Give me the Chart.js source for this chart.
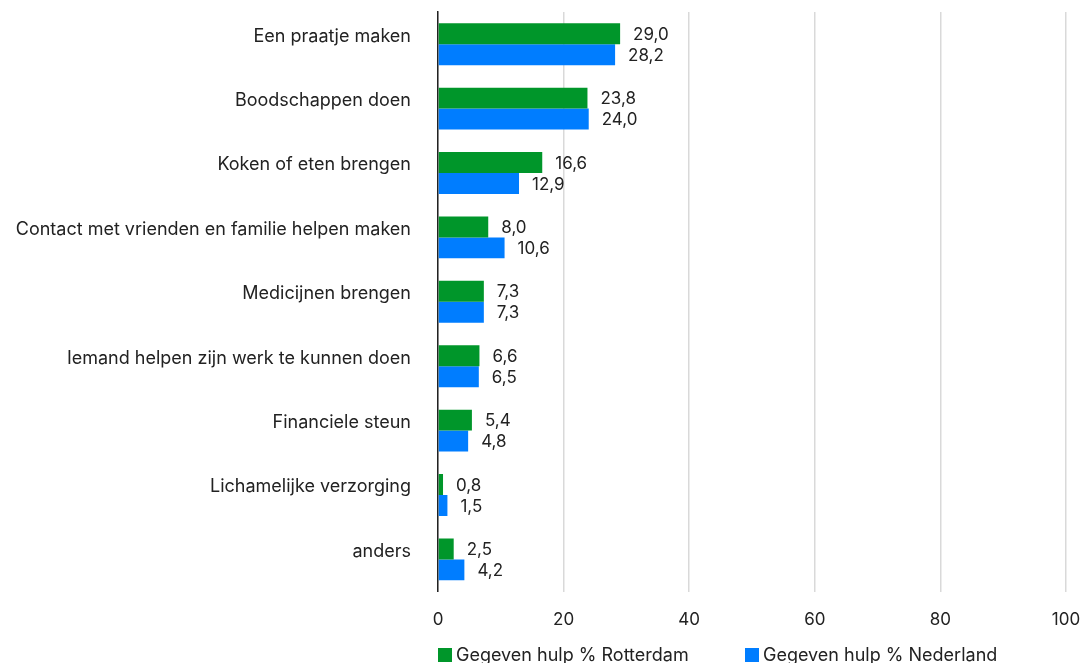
<!DOCTYPE html>
<html>
<head>
<meta charset="utf-8">
<script src="https://cdn.jsdelivr.net/npm/chart.js@4/dist/chart.umd.min.js"></script>
<style>
	html, body { margin:0; padding:0; background:#fff; }
	#wrap { position:relative; width:1081px; height:663px; }
	#legend { position:absolute; left:438px; top:644px; font-family:Inter, "Noto Sans", sans-serif; font-size:18px; color:#222; white-space:nowrap; }
	#legend span.item { position:absolute; top:0; }
	#legend i { display:inline-block; width:14px; height:14px; margin-right:4px; vertical-align:-1px; }
</style>
</head>
<body>
<div id="wrap">
	<canvas id="c" width="1081" height="663"></canvas>
	<div id="legend"></div>
</div>
<script>
const categories = ["Een praatje maken","Boodschappen doen","Koken of eten brengen","Contact met vrienden en familie helpen maken","Medicijnen brengen","Iemand helpen zijn werk te kunnen doen","Financiele steun","Lichamelijke verzorging","anders"];
const rotterdam = [29.0, 23.8, 16.6, 8.0, 7.3, 6.6, 5.4, 0.8, 2.5];
const nederland = [28.2, 24.0, 12.9, 10.6, 7.3, 6.5, 4.8, 1.5, 4.2];
const seriesNames = ["Gegeven hulp % Rotterdam","Gegeven hulp % Nederland"];
const colors = ["#00962a","#007dff"];
const FONT = "Inter, 'Noto Sans', sans-serif";

// values next to the bars, Dutch decimal comma
const valueLabels = {
	id: "valueLabels",
	afterDatasetsDraw: function (chart) {
		let ctx = chart.ctx;
		ctx.save();
		ctx.font = "17px " + FONT;
		ctx.fillStyle = "#222";
		ctx.textBaseline = "middle";
		ctx.textAlign = "left";
		chart.data.datasets.forEach(function (ds, i) {
			chart.getDatasetMeta(i).data.forEach(function (bar, j) {
				ctx.fillText(ds.data[j].toFixed(1).replace(".", ","), bar.x + 13, bar.y + 1);
			});
		});
		ctx.restore();
	}
};

new Chart(document.getElementById("c"), {
	type: "bar",
	data: {
		labels: categories,
		datasets: [
			{ label: seriesNames[0], data: rotterdam, backgroundColor: colors[0] },
			{ label: seriesNames[1], data: nederland, backgroundColor: colors[1] }
		]
	},
	options: {
		indexAxis: "y",
		responsive: false,
		animation: false,
		layout: { padding: { top: 12, right: 15, bottom: 15, left: 0 } },
		datasets: { bar: { barPercentage: 1, categoryPercentage: 0.65 } },
		plugins: { legend: { display: false }, tooltip: { enabled: false } },
		scales: {
			x: {
				min: 0, max: 100,
				ticks: { stepSize: 20, color: "#222", font: { family: FONT, size: 17 }, padding: 18 },
				grid: { color: "#d9d9d9", lineWidth: 1.5, drawTicks: false },
				border: { display: false },
				afterFit: function (s) { s.paddingLeft = 0; s.paddingRight = 0; }
			},
			y: {
				ticks: { color: "#222", font: { family: FONT, size: 18 }, padding: 27, labelOffset: -8 },
				grid: { display: false, drawTicks: false },
				border: { display: true, color: "#222", width: 1.5 },
				afterFit: function (s) { s.width = 438; s.paddingTop = 0; s.paddingBottom = 0; }
			}
		}
	},
	plugins: [valueLabels]
});

let lg = document.getElementById("legend");
[0, 307].forEach(function (off, i) {
	let s = document.createElement("span");
	s.className = "item";
	s.style.left = off + "px";
	s.innerHTML = '<i style="background:' + colors[i] + '"></i>' + seriesNames[i];
	lg.appendChild(s);
});
</script>
</body>
</html>
